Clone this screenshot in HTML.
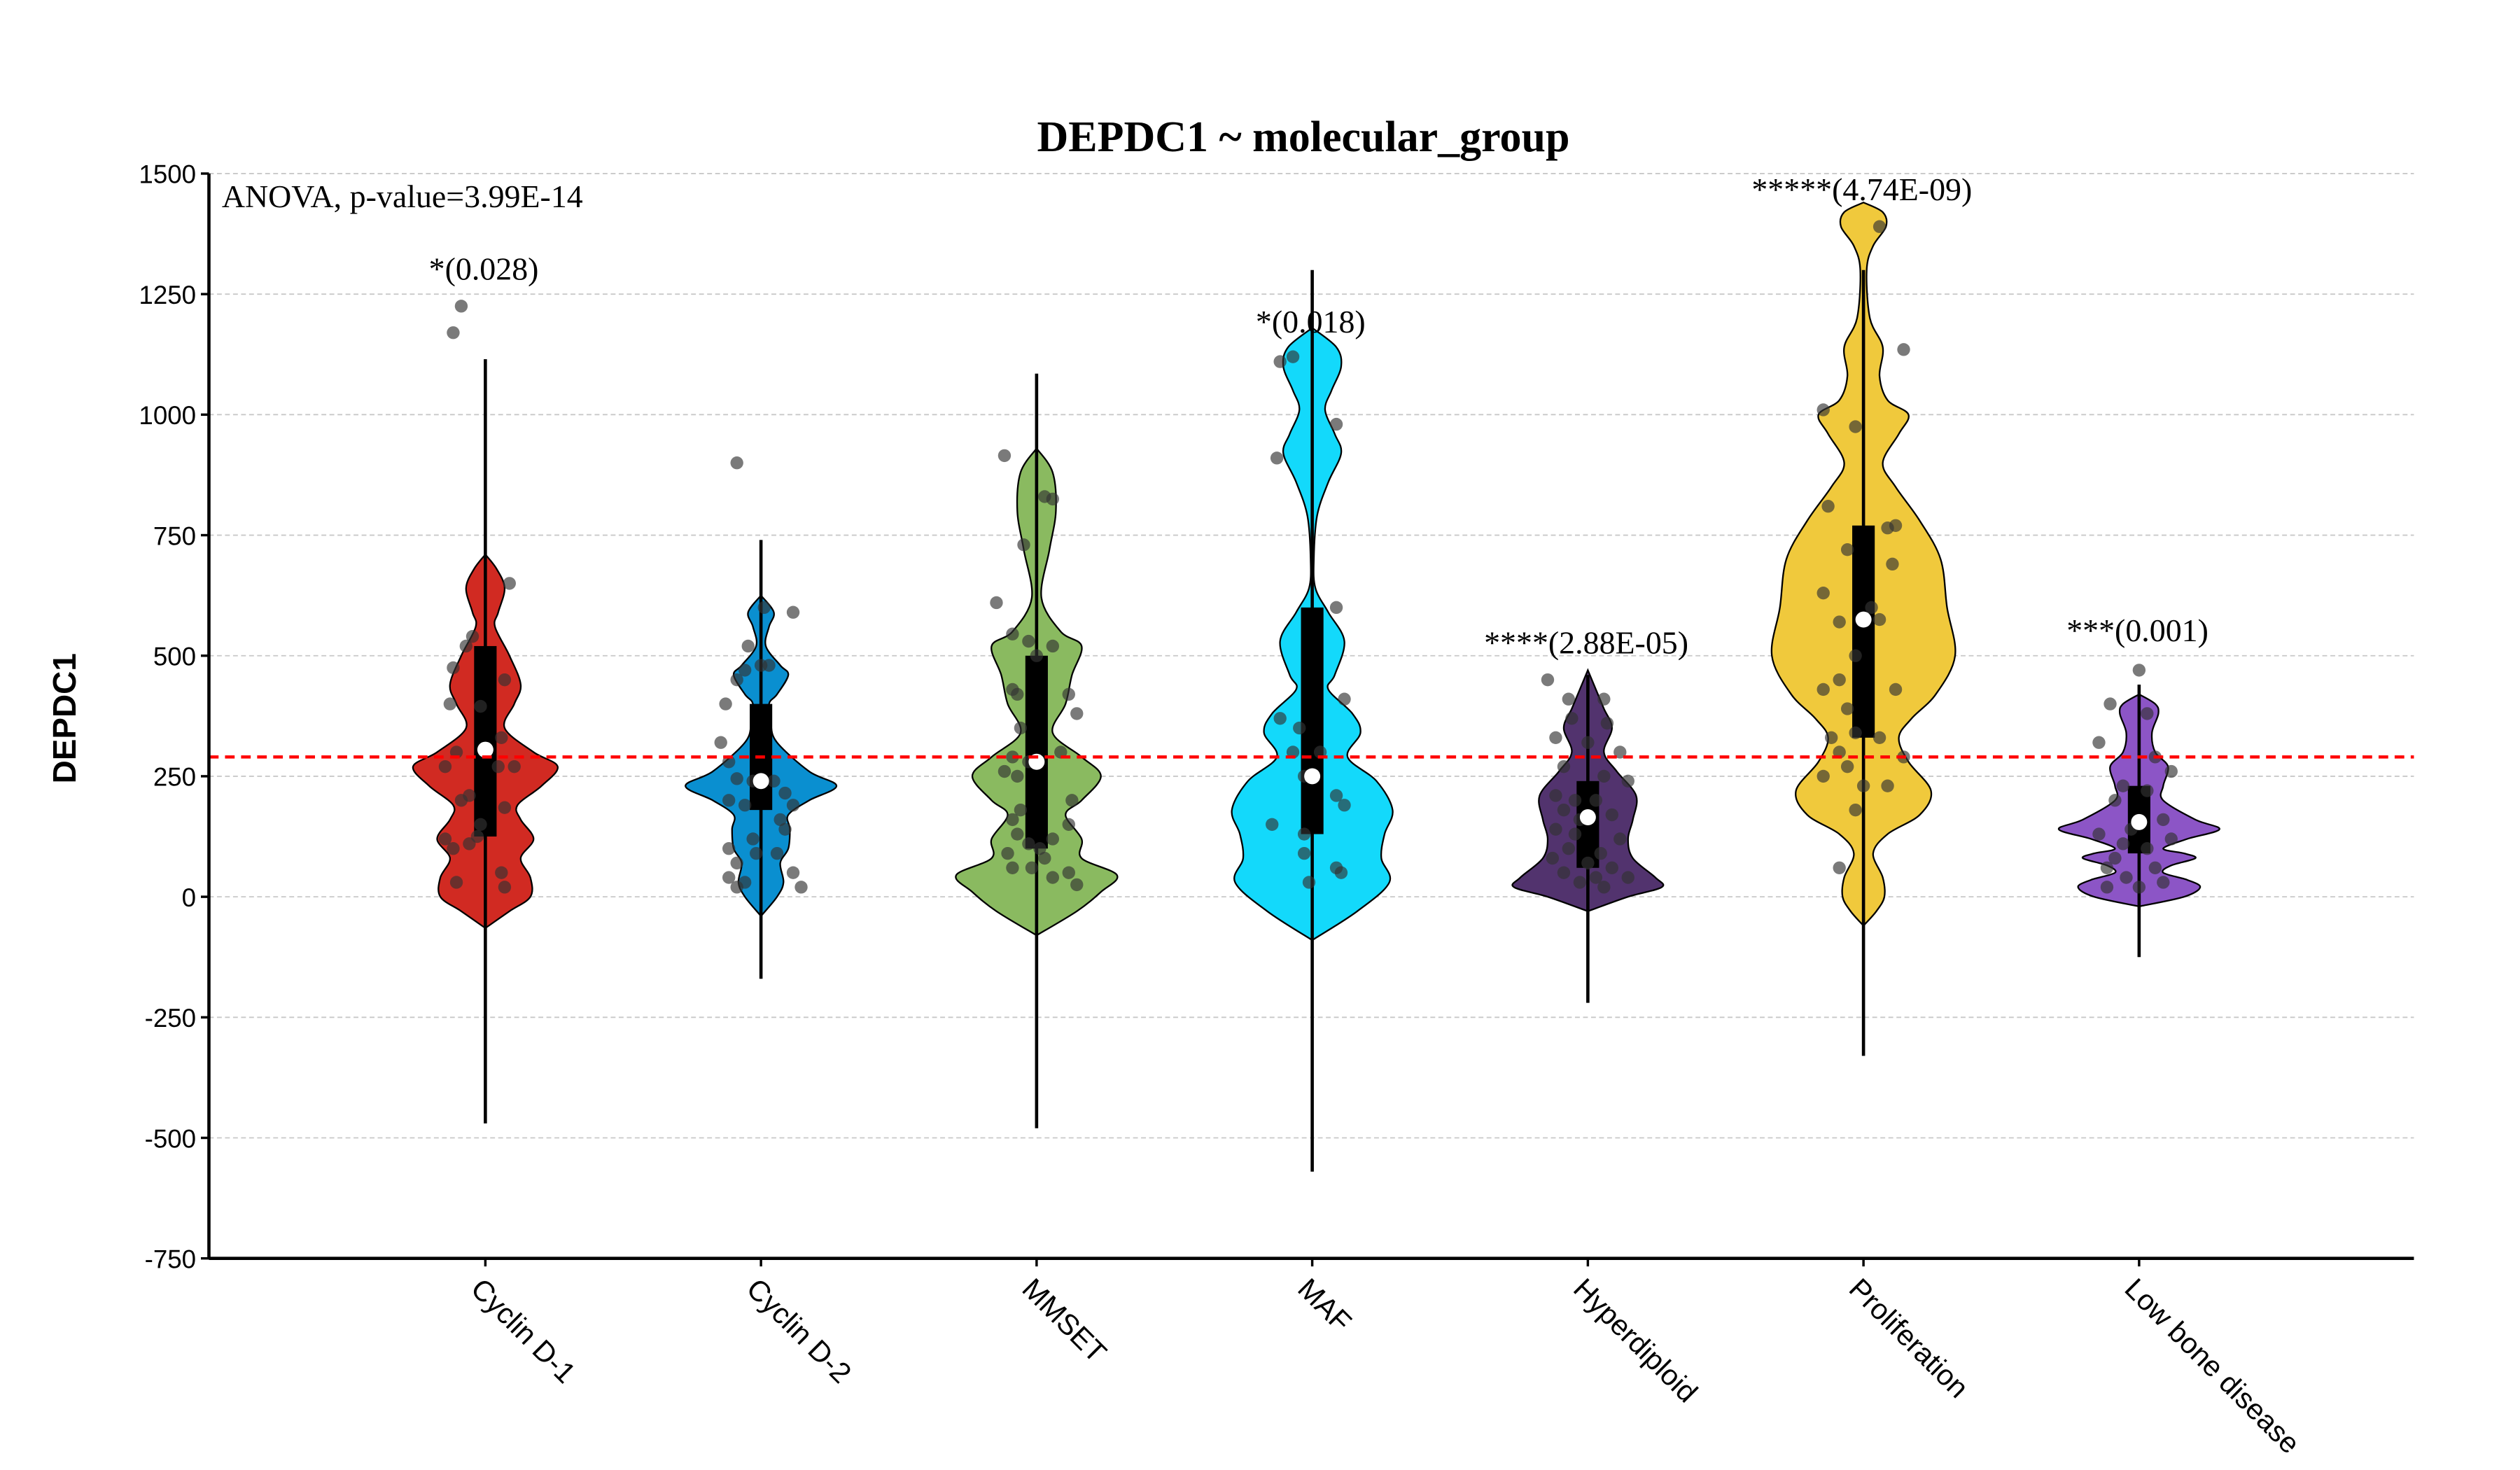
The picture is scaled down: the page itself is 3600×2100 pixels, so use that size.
<!DOCTYPE html>
<html><head><meta charset="utf-8"><style>
html,body{margin:0;padding:0;background:#fff;}
svg{display:block;}
</style></head><body>
<svg id="chart" width="3600" height="2100" viewBox="0 0 1568 914.67" preserveAspectRatio="none" xmlns="http://www.w3.org/2000/svg">
<g id="grid"></g>
<g id="plot"></g>
<g id="axes"></g>
<text x="811" y="94" text-anchor="middle" font-family="Liberation Serif, serif" font-weight="bold" font-size="27">DEPDC1 ~ molecular_group</text>
<text x="138" y="129" font-family="Liberation Serif, serif" font-size="20">ANOVA, p-value=3.99E-14</text>
<text transform="translate(47,447) rotate(-90)" text-anchor="middle" font-family="Liberation Sans, sans-serif" font-weight="bold" font-size="20">DEPDC1</text>
</svg>
<script>
const categories = ["Cyclin D-1","Cyclin D-2","MMSET","MAF","Hyperdiploid","Proliferation","Low bone disease"];
const colors = ["#d12a22","#0a8fd0","#8aba60","#13d9fb","#52336e","#f0c93c","#8c55c6"];
const annotations = ["*(0.028)","","","*(0.018)","****(2.88E-05)","*****(4.74E-09)","***(0.001)"];
const annotationValues = [1280,null,null,1170,505,1445,530];
const whiskerLow = [-470,-170,-480,-570,-220,-330,-125];
const whiskerHigh = [1115,740,1085,1300,460,1300,440];
const q1 = [125,180,100,130,60,330,90];
const q3 = [520,400,500,600,240,770,230];
const medians = [305,240,280,250,165,575,155];
const refLine = 290;
const yTicks = [1500,1250,1000,750,500,250,0,-250,-500,-750];
const density0 = [[710,0],[680,7],[640,12],[590,8],[560,6],[500,15],[440,22],[400,18],[350,12],[300,30],[270,45],[230,35],[190,20],[160,22],[120,30],[80,22],[40,28],[0,28],[-30,15],[-65,0]];
const density1 = [[625,0],[590,8],[560,5],[520,3],[480,12],[460,17],[420,10],[400,5],[360,6],[320,10],[260,30],[230,47],[200,30],[170,17],[140,18],[100,17],[70,12],[30,14],[0,10],[-40,0]];
const density2 = [[930,0],[880,10],[800,12],[720,8],[620,3],[550,15],[520,28],[460,22],[400,18],[340,10],[290,28],[250,40],[200,28],[170,18],[120,28],[80,28],[45,50],[10,40],[-30,25],[-80,0]];
const density3 = [[1180,0],[1140,15],[1100,18],[1050,12],[1010,8],[960,14],[920,18],[860,10],[790,3],[700,1],[640,2],[590,10],[530,20],[460,14],[430,10],[380,25],[340,30],[290,22],[240,40],[180,50],[130,45],[80,43],[30,48],[-30,28],[-90,0]];
const density4 = [[470,0],[430,5],[390,10],[350,15],[300,10],[260,18],[210,30],[160,28],[120,25],[80,28],[40,42],[20,46],[0,25],[-30,0]];
const density5 = [[1440,0],[1420,12],[1390,14],[1350,6],[1300,2],[1200,4],[1140,12],[1080,10],[1030,15],[1000,28],[960,22],[900,12],[850,20],[780,35],[700,48],[600,52],[500,57],[420,45],[370,30],[330,22],[280,28],[220,42],[170,35],[130,15],[90,6],[40,12],[0,13],[-30,8],[-60,0]];
const density6 = [[420,0],[400,10],[380,12],[340,8],[300,10],[270,18],[230,15],[200,15],[160,35],[140,50],[120,30],[100,15],[90,28],[80,35],[65,20],[50,15],[35,30],[20,38],[0,28],[-20,0]];
const densities = [density0,density1,density2,density3,density4,density5,density6];
const points0 = [[-15,1225],[-20,1170],[15,650],[-8,540],[-12,520],[-20,475],[12,450],[-22,400],[-3,395],[10,330],[-18,300],[-25,270],[8,270],[18,270],[-10,210],[-15,200],[12,185],[-3,150],[-25,120],[-10,110],[-20,100],[10,50],[-18,30],[12,20],[-5,125]];
const points1 = [[-15,900],[20,590],[2,600],[-8,520],[-15,450],[-10,470],[0,480],[5,480],[-22,400],[-25,320],[-20,280],[-15,245],[-5,240],[8,240],[15,215],[-20,200],[-10,190],[20,190],[12,160],[-20,100],[-5,120],[15,140],[-15,70],[-3,90],[10,90],[-20,40],[-10,30],[20,50],[25,20],[-15,20]];
const points2 = [[-20,915],[5,830],[10,825],[-8,730],[-25,610],[-15,545],[-5,530],[10,520],[0,500],[-12,420],[-15,430],[20,420],[25,380],[-10,350],[-15,290],[-5,280],[15,300],[-20,260],[-12,250],[22,200],[-10,180],[-15,160],[20,150],[-12,130],[-5,110],[10,120],[-18,90],[5,80],[-15,60],[20,50],[25,25],[10,40],[-3,60],[2,100]];
const points3 = [[-20,1110],[-12,1120],[15,980],[-22,910],[15,600],[-20,370],[-8,350],[20,410],[-12,300],[5,300],[-5,250],[15,210],[-25,150],[-5,130],[20,190],[15,60],[-5,90],[-2,30],[18,50]];
const points4 = [[-25,450],[-12,410],[10,410],[-10,370],[12,360],[-20,330],[0,320],[20,300],[-15,270],[10,250],[25,240],[-20,210],[-8,200],[5,200],[-15,180],[15,170],[-5,160],[-20,140],[-8,130],[20,120],[-12,100],[8,90],[-22,80],[0,70],[15,60],[-15,50],[5,40],[25,40],[-5,30],[10,20]];
const points5 = [[10,1390],[25,1135],[-25,1010],[-5,975],[-22,810],[15,765],[20,770],[-10,720],[18,690],[5,600],[-25,630],[-15,570],[10,575],[-5,500],[-15,450],[-25,430],[20,430],[-10,390],[-5,340],[-20,330],[10,330],[-15,300],[25,290],[-10,270],[-25,250],[0,230],[-5,180],[15,230],[-15,60]];
const points6 = [[0,470],[-18,400],[5,380],[-25,320],[10,290],[20,260],[-10,230],[5,220],[-15,200],[15,160],[-5,140],[-25,130],[20,120],[-10,110],[5,100],[-15,80],[10,60],[-20,60],[-8,40],[15,30],[-20,20],[0,20]];
const pointSets = [points0,points1,points2,points3,points4,points5,points6];

const NS = "http://www.w3.org/2000/svg";
const X0 = 130, X1 = 1502, Y0 = 108, Y1 = 783;
const yMin = -750, yMax = 1500;
function yScale(v){ return Y1 - (v - yMin) / (yMax - yMin) * (Y1 - Y0); }
function xScale(i){ return 302 + i * 171.5; }
function mk(tag, attrs, parent){
  const e = document.createElementNS(NS, tag);
  for (const k in attrs) e.setAttribute(k, attrs[k]);
  parent.appendChild(e);
  return e;
}
function smooth(pts){
  let d = "M" + pts[0][0] + "," + pts[0][1];
  for (let i = 0; i < pts.length - 1; i++){
    const p0 = pts[Math.max(0, i-1)], p1 = pts[i], p2 = pts[i+1], p3 = pts[Math.min(pts.length-1, i+2)];
    const c1x = p1[0] + (p2[0]-p0[0])/6, c1y = p1[1] + (p2[1]-p0[1])/6;
    const c2x = p2[0] - (p3[0]-p1[0])/6, c2y = p2[1] - (p3[1]-p1[1])/6;
    d += " C" + c1x + "," + c1y + " " + c2x + "," + c2y + " " + p2[0] + "," + p2[1];
  }
  return d;
}
const grid = document.getElementById("grid");
const plot = document.getElementById("plot");
const axes = document.getElementById("axes");

yTicks.forEach(t => {
  const y = yScale(t);
  if (t !== yMin) {
    const g = mk("line", {x1:X0, x2:X1, y1:y, y2:y, stroke:"#c8c8c8", "stroke-width":0.8, "stroke-dasharray":"3,2"}, grid);
    
    
  }
  const tk = mk("line", {x1:X0-5, x2:X0, y1:y, y2:y, stroke:"#000", "stroke-width":1.5}, axes);
  
  
  const lb = mk("text", {x:X0-8, y:y+6, "text-anchor":"end", "font-family":"Liberation Sans, sans-serif", "font-size":16}, axes);
  lb.textContent = t;
  
  
});

categories.forEach((c, i) => {
  const cx = xScale(i);
  const g = mk("g", {}, plot);
  
  
  const dens = densities[i];
  const right = dens.map(p => [cx + p[1], yScale(p[0])]);
  const left = dens.slice().reverse().map(p => [cx - p[1], yScale(p[0])]);
  const d = smooth(right) + " L" + smooth(left).slice(1) + " Z";
  const v = mk("path", {d:d, fill:colors[i], stroke:"#000", "stroke-width":1}, g);
  
  
  const w = mk("line", {x1:cx, x2:cx, y1:yScale(whiskerHigh[i]), y2:yScale(whiskerLow[i]), stroke:"#000", "stroke-width":2}, g);
  
  
  const b = mk("rect", {x:cx-7, y:yScale(q3[i]), width:14, height:yScale(q1[i])-yScale(q3[i]), fill:"#000"}, g);
  
  
  pointSets[i].forEach(p => {
    const pt = mk("circle", {cx:cx + p[0], cy:yScale(p[1]), r:4, fill:"#333", "fill-opacity":0.65}, g);
    
    
  });
  const m = mk("circle", {cx:cx, cy:yScale(medians[i]), r:5, fill:"#fff"}, g);
  
  
  if (annotations[i]) {
    const a = mk("text", {x:cx-1, y:yScale(annotationValues[i]), "text-anchor":"middle", "font-family":"Liberation Serif, serif", "font-size":20}, plot);
    a.textContent = annotations[i];
    
    
  }
  const tk = mk("line", {x1:cx, x2:cx, y1:Y1, y2:Y1+5, stroke:"#000", "stroke-width":1.5}, axes);
  
  
  const lb = mk("text", {transform:"translate(" + (cx-10) + "," + (Y1+20) + ") rotate(45)", "font-family":"Liberation Sans, sans-serif", "font-size":18}, axes);
  lb.textContent = c;
  
  
});

const rl = mk("line", {x1:X0, x2:X1, y1:yScale(refLine), y2:yScale(refLine), stroke:"#ff0000", "stroke-width":2, "stroke-dasharray":"6,4"}, plot);


const ya = mk("line", {x1:X0, x2:X0, y1:Y0, y2:Y1, stroke:"#000", "stroke-width":2}, axes);


const xa = mk("line", {x1:X0, x2:X1, y1:Y1, y2:Y1, stroke:"#000", "stroke-width":2}, axes);


</script>
</body></html>
